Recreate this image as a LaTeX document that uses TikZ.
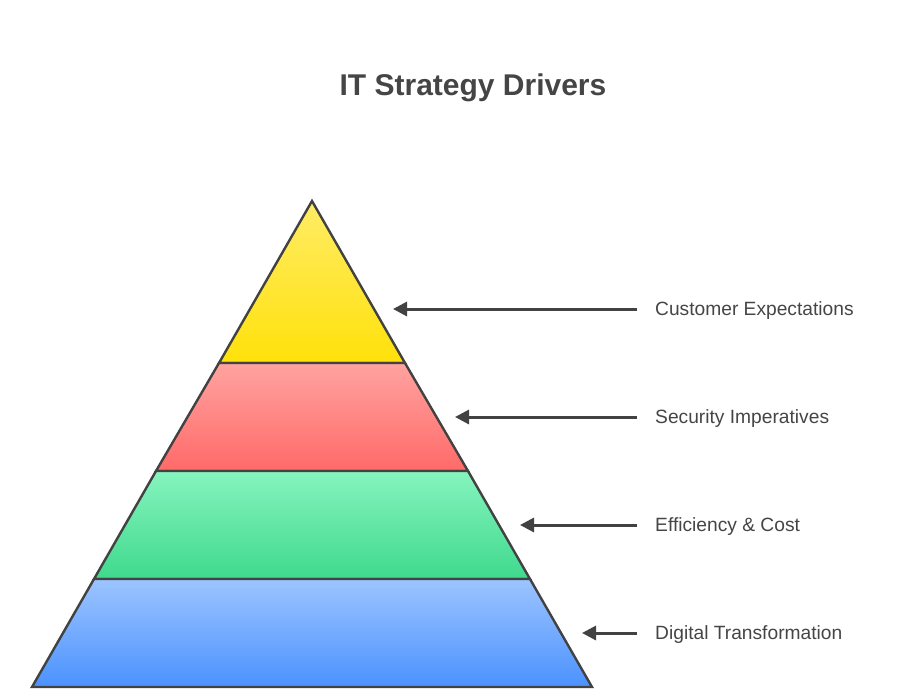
\documentclass[tikz,border=0pt]{standalone}
\usepackage{fontspec}
\setmainfont{Liberation Sans}
\usetikzlibrary{arrows.meta}
\definecolor{linegray}{HTML}{424242}
\definecolor{textgray}{HTML}{454545}
\definecolor{yellowtop}{HTML}{FFEC66}
\definecolor{yellowbot}{HTML}{FFE10A}
\definecolor{redtop}{HTML}{FFA3A0}
\definecolor{redbot}{HTML}{FF6A68}
\definecolor{greentop}{HTML}{86F4BE}
\definecolor{greenbot}{HTML}{3FD98D}
\definecolor{bluetop}{HTML}{9CC4FF}
\definecolor{bluebot}{HTML}{4B92FF}

\begin{document}
\begin{tikzpicture}[x=1pt, y=-1pt]
    % Define styles
    \tikzstyle{level} = [draw=linegray, line width=2.4pt, line join=miter]
    \tikzstyle{driver} = [anchor=west, inner xsep=18pt, inner ysep=0pt, text height=13.7pt, text depth=0pt, text=textgray, font=\fontsize{19.2}{23}\selectfont]
    \tikzstyle{arrow} = [draw=linegray, line width=3pt, -{Triangle[length=14pt, width=14pt]}]

    \useasboundingbox (0,0) rectangle (900,691);

    % Title
    \node [text=textgray, font=\bfseries\fontsize{30}{36}\selectfont] (title) at (473,88) {IT Strategy Drivers};

    % Pyramid corners
    \coordinate (apex) at (312,201);
    \coordinate (l1) at (219,363);  \coordinate (r1) at (405,363);
    \coordinate (l2) at (156,471);  \coordinate (r2) at (468,471);
    \coordinate (l3) at (94,579);   \coordinate (r3) at (530,579);
    \coordinate (l4) at (32,687);   \coordinate (r4) at (592,687);

    % Pyramid levels
    \path [level, top color=yellowtop, bottom color=yellowbot] (apex) -- (r1) -- (l1) -- cycle;
    \path [level, top color=redtop, bottom color=redbot] (l1) -- (r1) -- (r2) -- (l2) -- cycle;
    \path [level, top color=greentop, bottom color=greenbot] (l2) -- (r2) -- (r3) -- (l3) -- cycle;
    \path [level, top color=bluetop, bottom color=bluebot] (l3) -- (r3) -- (r4) -- (l4) -- cycle;

    % Arrow tips
    \coordinate (customertip) at (393,309);
    \coordinate (securitytip) at (455,417);
    \coordinate (efficiencytip) at (520,525);
    \coordinate (digitaltip) at (582,633);

    % Driver labels
    \node [driver] (customer) at (637,309) {Customer Expectations};
    \node [driver] (security) at (637,417) {Security Imperatives};
    \node [driver] (efficiency) at (637,525) {Efficiency \& Cost};
    \node [driver] (digital) at (637,633) {Digital Transformation};

    % Arrows pointing left
    \draw [arrow] (customer.west) -- (customertip);
    \draw [arrow] (security.west) -- (securitytip);
    \draw [arrow] (efficiency.west) -- (efficiencytip);
    \draw [arrow] (digital.west) -- (digitaltip);
\end{tikzpicture}
\end{document}
